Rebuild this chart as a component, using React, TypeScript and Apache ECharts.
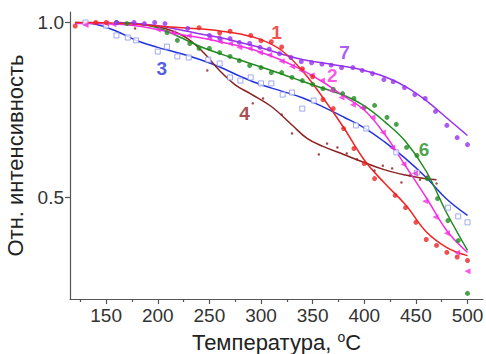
import React, { useEffect, useRef } from "react";
import * as echarts from "echarts";

// ---------- data (temperature °C, relative intensity) ----------
const xTicks = [150, 200, 250, 300, 350, 400, 450, 500];
const xMinorTicks = [125, 175, 225, 275, 325, 375, 425, 475];
const yTicks = [0.5, 1.0];

// 1 — red
const s1Pts: [number, number][] = [
  [120, 0.99], [140, 1.0], [150, 1.0], [240, 0.985], [260, 0.97], [270, 0.975], [290, 0.963],
  [300, 0.948], [310, 0.945], [320, 0.93], [340, 0.868], [350, 0.845], [360, 0.78], [370, 0.754],
  [380, 0.697], [390, 0.64], [400, 0.597], [410, 0.554], [430, 0.506], [440, 0.471], [450, 0.429],
  [460, 0.38], [470, 0.363], [480, 0.343], [490, 0.33], [500, 0.32],
];
const s1Fit: [number, number][] = [
  [120, 1.0], [140, 1.0], [160, 0.998], [180, 0.995], [200, 0.99], [220, 0.986], [240, 0.982],
  [260, 0.976], [280, 0.967], [300, 0.951], [320, 0.92], [340, 0.862], [360, 0.785], [380, 0.7],
  [400, 0.607], [420, 0.54], [440, 0.479], [460, 0.402], [480, 0.357], [500, 0.334],
];

// 2 — magenta
const s2Pts: [number, number][] = [
  [130, 0.993], [150, 0.997], [157, 0.995], [200, 0.98], [215, 0.97], [230, 0.962], [250, 0.954],
  [260, 0.946], [270, 0.94], [279, 0.929], [289, 0.926], [299, 0.914], [308, 0.907], [320, 0.889],
  [330, 0.874], [339, 0.863], [349, 0.849], [359, 0.834], [368, 0.806], [378, 0.786], [389, 0.765],
  [398, 0.756], [408, 0.729], [418, 0.686], [427, 0.642], [438, 0.595], [449, 0.569], [459, 0.489],
  [469, 0.444], [480, 0.398], [490, 0.342], [500, 0.289],
];
const s2Fit: [number, number][] = [
  [120, 0.997], [140, 0.997], [160, 0.995], [180, 0.99], [200, 0.98], [220, 0.967], [240, 0.957],
  [260, 0.945], [280, 0.932], [300, 0.915], [320, 0.892], [340, 0.864], [360, 0.83], [380, 0.79],
  [400, 0.75], [420, 0.68], [440, 0.59], [460, 0.5], [480, 0.405], [500, 0.343],
];

// 3 — blue
const s3Pts: [number, number][] = [
  [130, 1.0], [150, 0.991], [160, 0.963], [171, 0.957], [179, 0.949], [200, 0.917], [209, 0.931],
  [219, 0.903], [230, 0.9], [249, 0.894], [260, 0.883], [270, 0.843], [280, 0.834], [290, 0.843],
  [300, 0.826], [310, 0.826], [321, 0.794], [330, 0.8], [340, 0.754], [351, 0.777], [392, 0.706],
  [402, 0.697], [431, 0.629], [451, 0.571], [481, 0.471], [491, 0.446], [500, 0.429],
];
const s3Fit: [number, number][] = [
  [120, 1.0], [140, 0.995], [160, 0.975], [180, 0.948], [200, 0.929], [220, 0.913], [240, 0.895],
  [260, 0.873], [280, 0.846], [300, 0.822], [320, 0.804], [340, 0.785], [360, 0.759], [380, 0.73],
  [400, 0.699], [420, 0.658], [440, 0.611], [460, 0.557], [480, 0.495], [500, 0.449],
];

// 4 — brown
const s4Pts: [number, number][] = [
  [178, 0.983], [248, 0.863], [292, 0.769], [302, 0.783], [320, 0.737], [330, 0.683], [356, 0.623],
  [364, 0.654], [374, 0.643], [383, 0.626], [393, 0.609], [402, 0.597], [410, 0.577], [418, 0.591],
  [427, 0.583], [436, 0.543], [444, 0.563], [454, 0.551], [461, 0.56], [470, 0.54],
];
const s4Fit: [number, number][] = [
  [160, 1.0], [180, 0.996], [200, 0.988], [215, 0.975], [230, 0.952], [245, 0.912], [260, 0.862],
  [275, 0.822], [290, 0.796], [310, 0.76], [330, 0.707], [345, 0.668], [360, 0.646], [380, 0.623],
  [400, 0.6], [420, 0.579], [440, 0.564], [455, 0.556], [470, 0.551],
];

// 6 — green
const s6Pts: [number, number][] = [
  [160, 1.0], [170, 0.997], [209, 0.971], [219, 0.949], [231, 0.94], [240, 0.926], [250, 0.926],
  [260, 0.914], [270, 0.903], [279, 0.891], [289, 0.877], [300, 0.871], [310, 0.857], [320, 0.857],
  [330, 0.843], [340, 0.834], [350, 0.823], [360, 0.811], [370, 0.809], [379, 0.797], [390, 0.783],
  [400, 0.757], [410, 0.763], [422, 0.729], [431, 0.709], [441, 0.643], [451, 0.62], [461, 0.554],
  [471, 0.497], [481, 0.434], [491, 0.377], [500, 0.226],
];
const s6Fit: [number, number][] = [
  [160, 1.0], [180, 0.996], [200, 0.985], [220, 0.96], [240, 0.933], [260, 0.911], [280, 0.892],
  [300, 0.873], [320, 0.853], [340, 0.832], [360, 0.812], [380, 0.792], [400, 0.762], [420, 0.716],
  [440, 0.66], [460, 0.575], [480, 0.455], [500, 0.349],
];

// 7 — purple
const s7Pts: [number, number][] = [
  [160, 1.0], [177, 1.0], [187, 0.997], [197, 1.0], [207, 0.997], [229, 0.983], [250, 0.963],
  [260, 0.955], [270, 0.954], [279, 0.943], [289, 0.94], [299, 0.929], [308, 0.924], [318, 0.911],
  [329, 0.9], [339, 0.888], [349, 0.885], [359, 0.881], [368, 0.878], [378, 0.871], [389, 0.871],
  [398, 0.863], [408, 0.854], [419, 0.837], [428, 0.831], [439, 0.814], [449, 0.794], [459, 0.783],
  [469, 0.746], [480, 0.706], [490, 0.671], [500, 0.651],
];
const s7Fit: [number, number][] = [
  [160, 1.0], [180, 0.997], [200, 0.991], [220, 0.98], [240, 0.968], [260, 0.957], [280, 0.943],
  [300, 0.928], [320, 0.91], [340, 0.894], [360, 0.884], [380, 0.875], [400, 0.863], [420, 0.845],
  [440, 0.817], [460, 0.777], [480, 0.727], [500, 0.677],
];

// curve number annotations
const curveNames = ["1", "2", "3", "4", "6", "7"];
const curveNamePos: [number, number][] = [
  [315, 0.972], [369, 0.849], [204, 0.869], [284, 0.74], [458, 0.637], [381, 0.914],
];

const COLORS = {
  red: "#ee2424",
  magenta: "#f52ee0",
  blue: "#2233dd",
  blueMarker: "#8c95ee",
  brown: "#8c2222",
  green: "#1f8a1f",
  purple: "#9632ee",
};
const labelColors = [COLORS.red, COLORS.magenta, COLORS.blue, COLORS.brown, COLORS.green, COLORS.purple];

const FONT = "'Liberation Sans', Arial, Helvetica, sans-serif";

function fitLine(data: [number, number][], color: string) {
  return {
    type: "line",
    data,
    xAxisIndex: 0,
    smooth: 0.4,
    showSymbol: false,
    symbol: "none",
    lineStyle: { color, width: 1.5 },
    silent: true,
    z: 2,
  };
}

function points(data: [number, number][], color: string, extra: any = {}) {
  return {
    type: "scatter",
    data,
    xAxisIndex: 0,
    symbol: "circle",
    symbolSize: 5,
    itemStyle: { color },
    z: 3,
    ...extra,
  };
}

export default function App() {
  const ref = useRef<HTMLDivElement>(null);

  useEffect(() => {
    if (!ref.current) return;
    const chart = echarts.init(ref.current, undefined, { renderer: "svg" });
    const option: any = {
      animation: false,
      backgroundColor: "#ffffff",
      grid: {
        left: 70,
        right: 3,
        top: 12,
        bottom: 55,
        containLabel: false,
        outerBoundsMode: "none",
      },
      xAxis: [
        {
          type: "value",
          min: 115,
          max: 515,
          name: "Температура, {sup|o}C",
          nameLocation: "middle",
          nameGap: 31,
          nameTextStyle: {
            fontFamily: FONT,
            fontSize: 22,
            color: "#222",
            rich: {
              sup: { fontFamily: FONT, fontSize: 14, color: "#222", padding: [0, 0, 10, 0] },
            },
          },
          axisLine: { show: true, onZero: false, lineStyle: { color: "#555", width: 1.2 } },
          axisTick: { show: true, customValues: xTicks, length: 5, lineStyle: { color: "#555", width: 1.2 } },
          axisLabel: {
            customValues: xTicks,
            fontFamily: FONT,
            fontSize: 19,
            color: "#333",
            margin: 7,
          },
          splitLine: { show: false },
        },
        {
          type: "value",
          min: 115,
          max: 515,
          position: "bottom",
          axisLine: { show: false },
          axisTick: { show: true, customValues: xMinorTicks, length: 3, lineStyle: { color: "#555", width: 1.2 } },
          axisLabel: { show: false },
          splitLine: { show: false },
        },
      ],
      yAxis: {
        type: "value",
        min: 0.21,
        max: 1.03,
        name: "Отн. интенсивность",
        nameLocation: "middle",
        nameRotate: 90,
        nameGap: 40,
        nameTextStyle: { fontFamily: FONT, fontSize: 22, color: "#222" },
        axisLine: { show: true, onZero: false, lineStyle: { color: "#555", width: 1.2 } },
        axisTick: { show: true, customValues: yTicks, length: 5, lineStyle: { color: "#555", width: 1.2 } },
        axisLabel: {
          customValues: yTicks,
          fontFamily: FONT,
          fontSize: 19,
          color: "#333",
          margin: 6,
          formatter: (v: number) => v.toFixed(1),
        },
        splitLine: { show: false },
      },
      series: [
        fitLine(s3Fit, COLORS.blue),
        points(s3Pts, COLORS.blueMarker, {
          symbol: "rect",
          symbolSize: 5,
          itemStyle: { color: "#ffffff", borderColor: COLORS.blueMarker, borderWidth: 1 },
        }),
        fitLine(s4Fit, COLORS.brown),
        points(s4Pts, COLORS.brown, { symbolSize: 2.5 }),
        fitLine(s6Fit, COLORS.green),
        points(s6Pts, COLORS.green),
        fitLine(s2Fit, COLORS.magenta),
        points(s2Pts, COLORS.magenta, { symbol: "triangle", symbolRotate: 90, symbolSize: 6 }),
        fitLine(s7Fit, COLORS.purple),
        points(s7Pts, COLORS.purple),
        fitLine(s1Fit, COLORS.red),
        points(s1Pts, COLORS.red),
        {
          type: "scatter",
          xAxisIndex: 0,
          symbolSize: 0,
          silent: true,
          z: 5,
          data: curveNames.map((n, i) => ({
            value: [curveNamePos[i][0], curveNamePos[i][1]],
            name: n,
            label: { color: labelColors[i] },
          })),
          label: {
            show: true,
            position: "inside",
            formatter: (p: any) => p.name,
            fontFamily: FONT,
            fontSize: 19,
            fontWeight: "bold",
          },
        },
      ],
    };
    chart.setOption(option);
    return () => chart.dispose();
  }, []);

  return (
    <div
      ref={ref}
      style={{ position: "fixed", left: 0, top: 0, width: 486, height: 354 }}
    />
  );
}
